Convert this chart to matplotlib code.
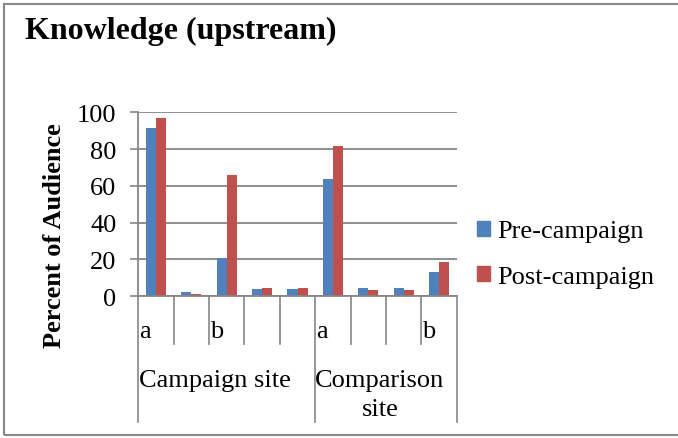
import numpy as np
import matplotlib
matplotlib.use("Agg")
import matplotlib.pyplot as plt
from matplotlib.patches import Patch, Rectangle

plt.rcParams['font.family'] = ['Liberation Serif', 'DejaVu Serif']

# data
pre_campaign = [91.3, 2.5, 21.0, 3.8, 3.8, 63.6, 4.3, 4.3, 13.0]
post_campaign = [96.7, 1.4, 65.9, 4.3, 4.3, 81.7, 3.3, 3.3, 18.5]
level1_labels = ["a", "", "b", "", "", "a", "", "", "b"]
site_names = ["Campaign site", "Comparison\nsite"]
site_sizes = [5, 4]
yticks = [0, 20, 40, 60, 80, 100]

blue = "#4F81BD"
red = "#C0504D"
gray = "#868686"

fig = plt.figure(figsize=(6.78, 4.39), dpi=100)
ax = fig.add_axes([0.204, 0.3228, 0.4696, 0.4192])

x = np.arange(len(pre_campaign))
w = 0.285
ax.bar(x - w / 2, pre_campaign, w, color=blue, label="Pre-campaign", zorder=3)
ax.bar(x + w / 2, post_campaign, w, color=red, label="Post-campaign", zorder=3)

ax.set_xlim(-0.5, len(x) - 0.5)
ax.set_ylim(0, 100)
ax.set_yticks(yticks)
ax.set_xticks([])
ax.yaxis.grid(True, color=gray, linewidth=1.3, zorder=0)
ax.tick_params(axis='y', length=5.8, width=1.2, color=gray, pad=10, labelsize=19)
for s in ['top', 'right']:
    ax.spines[s].set_visible(False)
for s in ['left', 'bottom']:
    ax.spines[s].set_color(gray)
    ax.spines[s].set_linewidth(1.3)
    ax.spines[s].set_zorder(4)

ax.set_ylabel("Percent of Audience", fontsize=19, fontweight='bold')
ax.yaxis.set_label_coords(-0.227, 0.333)

# multi-level category axis
tr = ax.get_xaxis_transform()
for i, lab in enumerate(level1_labels):
    if lab:
        ax.text(i - 0.5 + 0.02, -0.221, lab, transform=tr, fontsize=19,
                ha='left', va='baseline')
bounds = np.concatenate([[0], np.cumsum(site_sizes)]) - 0.5
for b in np.arange(-0.5, len(x)):
    long = np.isclose(bounds, b).any()
    ax.plot([b, b], [0, -0.683 if long else -0.259], transform=tr,
            color=gray, lw=1.2, clip_on=False)

ax.text(bounds[0] + 0.01, -0.486, site_names[0], transform=tr, fontsize=19,
        ha='left', va='baseline')
ax.text(6.33, -0.486, site_names[1].split("\n")[0], transform=tr, fontsize=19,
        ha='center', va='baseline')
ax.text(6.33, -0.643, site_names[1].split("\n")[1], transform=tr, fontsize=19,
        ha='center', va='baseline')

handles = [Patch(color=blue, label="Pre-campaign"),
           Patch(color=red, label="Post-campaign")]
fig.legend(handles=handles, loc='center left',
           bbox_to_anchor=(464 / 678, 1 - 255 / 439), frameon=False,
           fontsize=19, handlelength=0.5, handleheight=0.5,
           handletextpad=0.25, labelspacing=0.88, borderpad=0)

fig.text(25 / 678, 1 - 39.5 / 439, "Knowledge (upstream)", fontsize=23,
         fontweight='bold', ha='left', va='baseline')

fig.add_artist(Rectangle((3.5 / 678, 3 / 439), 1.01, 431 / 439,
                         transform=fig.transFigure, fill=False,
                         edgecolor="#888888", linewidth=1.5))

fig.savefig("out.png", dpi=100)
